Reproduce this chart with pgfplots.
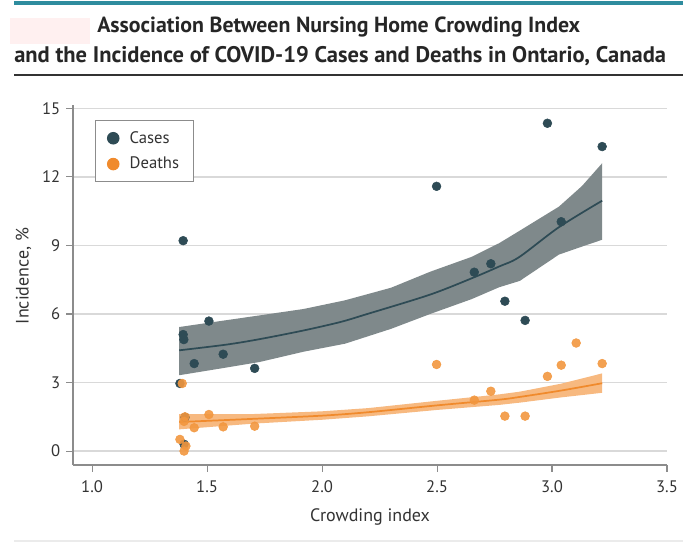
\documentclass[border=0pt]{standalone}
\usepackage{fontspec}
\setmainfont{PT Sans}
\usepackage{pgfplots}
\pgfplotsset{compat=1.18}
\definecolor{casec}{HTML}{2E4B55}
\definecolor{deathc}{HTML}{F08A2C}
\definecolor{deathpt}{HTML}{F2973F}
\definecolor{caseband}{HTML}{7F898B}
\definecolor{deathband}{HTML}{F7B980}
\definecolor{tealbar}{HTML}{2E8C9E}
\definecolor{axgray}{HTML}{8C8C8C}
\definecolor{txt}{HTML}{333333}
\begin{document}
\begin{tikzpicture}
\path[use as bounding box] (0pt,0pt) rectangle (512.25pt,411.75pt);
\begin{scope}[x=0.75pt,y=-0.75pt,shift={(0pt,411.75pt)}]
\fill[tealbar] (14,1) rectangle (683,5);
\fill[red!6] (10,18) rectangle (90,44);
\draw[black!80, line width=0.8pt] (14,75) -- (683,75);
\draw[black!8, line width=0.8pt] (14,541) -- (683,541);
\node[anchor=base west, inner sep=0pt, text=black!85, font=\fontsize{16.4}{19}\selectfont\bfseries] at (97,33) {Association Between Nursing Home Crowding Index};
\node[anchor=base west, inner sep=0pt, text=black!85, font=\fontsize{16.9}{19}\selectfont\bfseries] at (14,63) {and the Incidence of COVID-19 Cases and Deaths in Ontario, Canada};
\end{scope}
\begin{axis}[
  at={(54.75pt,63pt)}, anchor=south west,
  scale only axis, width=445.5pt, height=270pt,
  xmin=0.917, xmax=3.5, ymin=-0.61, ymax=15.15,
  axis x line*=bottom, axis y line*=left,
  axis line style={axgray, line width=0.8pt},
  xtick={1,1.5,2,2.5,3,3.5},
  xticklabels={1.0,1.5,2.0,2.5,3.0,3.5},
  ytick={0,3,6,9,12,15},
  yticklabels={0,3,6,9,12,15},
  tick align=outside, major tick length=5pt,
  tick style={axgray, line width=0.8pt},
  ymajorgrids, grid style={black!15, line width=1pt},
  ticklabel style={font=\fontsize{12.5}{14}\selectfont, text=txt},
  xticklabel style={yshift=-3pt},
  yticklabel style={xshift=-1pt},
  xlabel={Crowding index}, ylabel={Incidence, \%},
  every axis x label/.style={at={(axis description cs:0.5,0)}, yshift=-39pt, anchor=center,
     font=\fontsize{13.5}{15}\selectfont, text=txt},
  every axis y label/.style={at={(axis description cs:0,0.525)}, xshift=-37pt, rotate=90, anchor=center,
     font=\fontsize{13.5}{15}\selectfont, text=txt},
  legend style={at={(0.037,0.958)}, anchor=north west, draw=axgray, line width=0.8pt,
    font=\fontsize{12.5}{14}\selectfont, text=txt, row sep=5pt, inner xsep=9pt, inner ysep=6pt},
  legend cell align=left,
]
% cases band
\addplot[fill=caseband, draw=none, forget plot] coordinates {
(1.379,5.43)(1.55,5.68)(1.729,5.94)(1.92,6.22)(2.1,6.6)(2.3,7.15)(2.47,7.85)(2.65,8.5)(2.77,9.1)(2.86,9.65)(3.03,10.7)(3.13,11.6)(3.218,12.6)
(3.218,9.25)(3.13,8.95)(3.03,8.6)(2.86,7.45)(2.77,7.17)(2.65,6.65)(2.47,6.0)(2.3,5.35)(2.1,4.7)(1.92,4.35)(1.729,3.9)(1.55,3.6)(1.379,3.32)} -- cycle;
% deaths band
\addplot[fill=deathband, draw=none, forget plot] coordinates {
(1.379,1.62)(1.7,1.62)(2.0,1.74)(2.2,1.88)(2.5,2.2)(2.77,2.48)(2.86,2.6)(3.04,2.95)(3.218,3.4)
(3.218,2.55)(3.04,2.35)(2.86,2.12)(2.77,2.02)(2.5,1.8)(2.2,1.52)(2.0,1.37)(1.7,1.2)(1.379,0.95)} -- cycle;
% fitted curves
\addplot[casec, line width=1.3pt, smooth, forget plot] coordinates {
(1.379,4.41)(1.584,4.66)(1.729,4.9)(1.92,5.28)(2.08,5.65)(2.19,5.98)(2.47,6.85)(2.662,7.61)(2.77,8.08)(2.857,8.49)(3.03,9.8)(3.218,10.96)};
\addplot[deathc, line width=1.3pt, smooth, forget plot] coordinates {
(1.379,1.27)(1.7,1.41)(2.0,1.55)(2.2,1.70)(2.5,2.0)(2.77,2.25)(2.86,2.37)(3.04,2.65)(3.218,2.97)};
% points
\addplot[only marks, color=casec, mark=*, mark size=3.3pt, mark options={draw=casec, fill=casec},
  legend image post style={mark size=4.3pt}] coordinates {
(1.396,9.21)(1.396,5.10)(1.399,4.88)(1.508,5.69)(1.57,4.24)(1.444,3.83)(1.707,3.62)(1.382,2.96)(1.404,1.48)(1.40,0.30)
(2.498,11.59)(2.98,14.35)(3.218,13.33)(3.04,10.04)(2.662,7.83)(2.734,8.2)(2.795,6.56)(2.883,5.72)};
\addlegendentry{\hspace{6pt}Cases}
\addplot[only marks, color=deathpt, mark=*, mark size=3.3pt, mark options={draw=deathpt, fill=deathpt, opacity=0.9},
  legend image post style={mark size=4.3pt, mark options={draw=deathc, fill=deathc, opacity=1}}] coordinates {
(1.392,2.96)(1.404,1.50)(1.40,1.30)(1.508,1.60)(1.444,1.02)(1.57,1.06)(1.707,1.09)(1.382,0.51)(1.408,0.22)(1.40,0.0)
(2.498,3.79)(3.105,4.73)(3.04,3.76)(3.218,3.83)(2.98,3.27)(2.734,2.62)(2.662,2.23)(2.795,1.53)(2.883,1.53)};
\addlegendentry{\hspace{6pt}Deaths}
\end{axis}
\end{tikzpicture}
\end{document}
